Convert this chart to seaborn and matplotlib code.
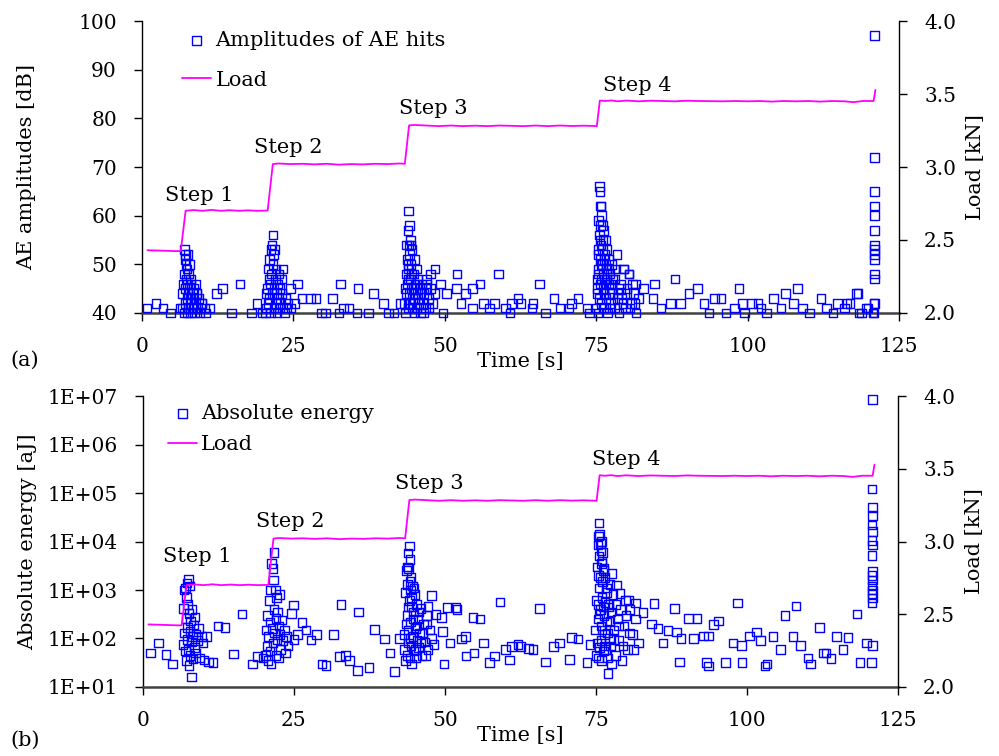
import numpy as np
import pandas as pd
import matplotlib
matplotlib.use("Agg")
import matplotlib.pyplot as plt
import seaborn as sns
from matplotlib.ticker import FixedLocator, FuncFormatter, NullLocator

# ---------------- data ----------------
# Load curve (same in both panels)
load_t = [0.9, 2.5, 4.0, 5.5, 6.4, 7.2, 8.5, 10.0, 11.5, 13.0, 14.5, 16.0, 17.5, 19.0, 20.75,
          21.6, 22.5, 24.5, 26.5, 28.5, 30.5, 32.5, 34.5, 36.5, 38.5, 40.5, 42.5, 43.4,
          44.1, 45.0, 47.0, 49.0, 51.0, 53.0, 55.0, 57.0, 59.0, 61.0, 63.0, 65.0, 67.0, 69.0,
          71.0, 73.0, 75.1, 75.6, 76.5, 77.5, 78.5, 80.0, 82.0, 84.0, 86.0, 88.0, 90.0, 92.0,
          94.0, 96.0, 98.0, 100.0, 102.0, 104.0, 106.0, 108.0, 110.0, 112.0, 114.0, 116.0,
          117.5, 119.0, 120.8, 121.1]
load_kN = [2.430, 2.428, 2.426, 2.424, 2.424, 2.700, 2.705, 2.700, 2.706, 2.700, 2.704, 2.700,
           2.703, 2.700, 2.702, 3.020, 3.024, 3.020, 3.022, 3.018, 3.022, 3.016, 3.020, 3.018,
           3.022, 3.020, 3.024, 3.022, 3.285, 3.288, 3.284, 3.280, 3.284, 3.280, 3.283, 3.280,
           3.284, 3.282, 3.280, 3.284, 3.280, 3.284, 3.281, 3.283, 3.280, 3.455, 3.452, 3.456,
           3.450, 3.455, 3.450, 3.454, 3.452, 3.450, 3.454, 3.452, 3.451, 3.450, 3.452, 3.450,
           3.452, 3.448, 3.452, 3.450, 3.452, 3.448, 3.452, 3.450, 3.444, 3.452, 3.452, 3.528]

# Panel (a): amplitudes of AE hits [dB]
amp_t = [
    0.8, 2.3, 3.5, 4.7, 6.3, 9.9, 9.0, 10.3, 10.5, 11.1, 12.3, 13.3, 14.8, 16.2, 18.1, 19.0, 19.8,
    6.6, 6.7, 6.8, 6.9, 7.0, 7.0, 7.1, 7.1, 7.2, 7.2, 7.3, 7.3, 7.4, 7.4, 7.5, 7.5, 7.6, 7.6, 7.7,
    7.7, 7.8, 7.8, 7.9, 8.0, 8.0, 8.1, 8.2, 8.3, 8.4, 8.5, 8.6, 8.7, 8.8, 8.9, 9.0, 9.2, 9.4, 9.6, 9.8,
    20.4, 20.5, 20.6, 20.7, 20.8, 20.9, 21.0, 21.0, 21.1, 21.2, 21.2, 21.3, 21.4, 21.5, 21.5, 21.6,
    21.6, 21.7, 21.8, 21.8, 21.9, 22.0, 22.0, 22.1, 22.2, 22.3, 22.4, 22.5, 22.6, 22.7, 22.8, 22.9,
    23.0, 23.1, 23.3, 23.5, 23.7, 23.9, 24.1,
    24.5, 25.7, 25.2, 24.6, 26.4, 27.8, 28.7, 29.6, 30.3, 31.5, 32.5, 32.8, 33.3, 34.2, 35.5, 35.7,
    37.4, 38.2, 39.9, 40.7, 41.6, 42.6,
    43.3, 43.4, 43.5, 43.6, 43.7, 43.8, 43.8, 43.9, 43.9, 44.0, 44.0, 44.1, 44.1, 44.2, 44.2, 44.3,
    44.3, 44.4, 44.4, 44.5, 44.6, 44.7, 44.8, 44.9, 45.0, 45.1, 45.2, 45.3, 45.4, 45.5, 45.6, 45.8,
    46.0, 46.2, 46.4, 46.6, 46.8, 47.0, 47.3, 47.6, 48.0, 48.4,
    43.6, 43.9, 44.0, 44.2, 44.3, 44.5, 44.6, 44.8, 45.0, 45.3, 45.7, 46.1, 46.5, 46.9, 47.4,
    47.0, 48.4, 47.6, 49.3, 49.7, 50.3, 52.0, 51.9, 52.7, 53.4, 54.6, 54.6, 55.8, 56.4, 57.4, 58.2,
    58.9, 60.0, 60.8, 61.0, 62.1, 62.6, 64.4, 64.6, 65.6, 66.6, 68.0, 69.0, 70.5, 70.9, 72.0, 73.5, 73.9,
    75.0, 75.1, 75.2, 75.3, 75.3, 75.4, 75.4, 75.5, 75.5, 75.6, 75.6, 75.7, 75.7, 75.8, 75.8, 75.9,
    75.9, 76.0, 76.0, 76.1, 76.2, 76.2, 76.3, 76.4, 76.5, 76.6, 76.7, 76.8, 76.9, 77.0, 77.1, 77.2,
    77.3, 77.4, 77.5, 77.6, 77.8, 78.0, 78.2, 78.4, 78.6, 78.8, 79.0, 79.2, 79.5, 79.8, 80.1, 80.4,
    80.8, 81.2, 81.6, 82.0,
    75.2, 75.3, 75.4, 75.5, 75.6, 75.7, 75.8, 75.9, 76.0, 76.1, 76.2, 76.3, 76.4, 76.5, 76.6, 76.8,
    77.0, 77.2, 77.4, 77.7, 78.1, 78.5, 79.0, 79.4, 80.0, 80.6, 81.0, 81.4,
    79.5, 80.4, 81.5, 82.8, 84.6, 84.4, 88.0, 85.7, 87.3, 88.9, 90.3, 91.7, 92.8, 93.6, 94.5, 95.6,
    96.4, 97.8, 98.6, 99.2, 99.5, 100.6, 101.7, 102.2, 103.1, 104.3, 105.5, 106.3, 107.6, 108.2,
    109.1, 110.2, 112.1, 113.0, 114.1, 114.8, 116.0, 116.9, 118.2, 118.8, 119.9, 120.7, 120.9,
    116.4, 118.0, 118.4, 119.6,
    121.0, 121.0, 121.0, 121.0, 121.0, 121.0, 121.0, 121.0, 121.0, 121.0, 121.0, 121.0, 121.0, 120.9]
amp_dB = [
    41, 42, 41, 40, 41, 42, 44, 41, 40, 41, 44, 45, 40, 46, 40, 42, 40,
    41, 44, 46, 40, 53, 48, 51, 45, 52, 42, 50, 47, 49, 43, 46, 40, 52, 44, 48,
    41, 45, 50, 43, 47, 40, 46, 42, 44, 41, 45, 43, 40, 46, 42, 44, 41, 43, 40, 42,
    40, 44, 41, 45, 42, 49, 43, 47, 51, 40, 46, 53, 48, 54, 44, 56,
    50, 52, 45, 41, 53, 47, 42, 49, 44, 40, 46, 43, 48, 41, 45, 42,
    47, 44, 49, 40, 43, 41, 42,
    45, 46, 42, 41, 43, 43, 43, 40, 40, 43, 40, 46, 41, 41, 40, 45,
    40, 44, 42, 40, 40, 42,
    42, 45, 40, 48, 54, 46, 51, 57, 41, 61, 49, 54, 44, 58, 52, 47,
    42, 54, 50, 45, 53, 43, 48, 40, 51, 46, 44, 49, 41, 47, 43, 45,
    40, 46, 42, 44, 41, 47, 43, 45, 42, 44,
    44, 50, 47, 42, 55, 48, 41, 45, 43, 46, 42, 44, 40, 45, 41,
    46, 49, 48, 46, 40, 44, 48, 45, 42, 44, 41, 45, 46, 42, 41, 42,
    48, 41, 40, 42, 43, 42, 41, 42, 46, 40, 43, 41, 41, 42, 43, 41, 40,
    41, 44, 47, 52, 40, 59, 48, 66, 43, 65, 55, 62, 46, 62, 50, 60,
    42, 58, 53, 45, 57, 41, 51, 47, 55, 43, 49, 53, 40, 46, 51, 44,
    48, 42, 50, 45, 47, 41, 49, 52, 44, 40, 46, 43, 49, 41, 45, 48,
    42, 44, 40, 43,
    45, 49, 53, 56, 51, 58, 54, 47, 50, 55, 48, 44, 52, 46, 50, 47,
    49, 41, 46, 44, 47, 43, 45, 42, 44, 41, 46, 42,
    49, 48, 46, 45, 46, 43, 47, 41, 42, 42, 44, 45, 42, 40, 43, 43,
    40, 41, 45, 42, 40, 42, 42, 41, 40, 43, 41, 44, 42, 45,
    41, 40, 43, 41, 40, 42, 41, 42, 44, 40, 41, 40, 42,
    42, 44, 40, 41,
    97, 72, 65, 62, 60, 57, 54, 53, 52, 51, 48, 47, 42, 40]

# Panel (b): absolute energy [aJ]
en_t = [
    1.2, 2.6, 3.8, 4.9, 9.9, 10.5, 10.1, 10.8, 11.6, 12.4, 13.6, 15.0, 16.4, 18.1, 19.0, 19.9,
    6.6, 6.7, 6.8, 6.9, 7.0, 7.0, 7.1, 7.2, 7.2, 7.3, 7.3, 7.4, 7.4, 7.5, 7.5, 7.6, 7.6, 7.7, 7.8,
    7.8, 7.9, 8.0, 8.0, 8.1, 8.2, 8.3, 8.4, 8.5, 8.6, 8.7, 8.8, 9.0, 9.2, 9.4, 9.7,
    20.3, 20.4, 20.5, 20.6, 20.7, 20.8, 20.9, 21.0, 21.0, 21.1, 21.2, 21.3, 21.4, 21.5, 21.5, 21.6,
    21.7, 21.7, 21.8, 21.9, 22.0, 22.0, 22.1, 22.2, 22.3, 22.4, 22.5, 22.6, 22.7, 22.8, 23.0, 23.2,
    23.4, 23.6, 23.8, 24.0,
    24.9, 24.6, 26.3, 27.0, 25.6, 25.0, 27.8, 28.7, 29.6, 30.3, 31.5, 32.5, 32.8, 33.5, 34.2, 35.5,
    35.7, 37.4, 38.3, 40.0, 40.9, 41.6, 42.5,
    43.2, 43.3, 43.4, 43.5, 43.6, 43.7, 43.8, 43.8, 43.9, 43.9, 44.0, 44.0, 44.1, 44.1, 44.2, 44.2,
    44.3, 44.3, 44.4, 44.4, 44.5, 44.5, 44.6, 44.7, 44.8, 44.9, 45.0, 45.1, 45.2, 45.3, 45.4, 45.5,
    45.6, 45.8, 46.0, 46.2, 46.4, 46.6, 46.9, 47.2, 47.5, 47.8, 48.2,
    43.6, 43.8, 44.0, 44.2, 44.3, 44.5, 44.7, 44.9, 45.1, 45.4, 45.7, 46.0, 46.3, 46.8, 47.0,
    47.8, 47.2, 48.5, 49.4, 49.6, 50.3, 51.8, 52.0, 50.8, 49.8, 52.7, 53.4, 53.5, 54.6, 55.8, 54.8,
    56.4, 57.4, 58.2, 59.1,
    60.0, 60.7, 61.0, 62.1, 62.6, 63.8, 64.6, 65.6, 66.6, 68.0, 69.0, 70.6, 70.9, 72.0, 73.5, 74.0,
    74.9, 75.0, 75.1, 75.2, 75.2, 75.3, 75.3, 75.4, 75.4, 75.5, 75.5, 75.6, 75.6, 75.7, 75.7, 75.8,
    75.8, 75.9, 75.9, 76.0, 76.0, 76.1, 76.2, 76.2, 76.3, 76.4, 76.5, 76.6, 76.7, 76.8, 76.9, 77.0,
    77.1, 77.2, 77.3, 77.4, 77.5, 77.6, 77.8, 78.0, 78.2, 78.4, 78.6, 78.8, 79.0, 79.3, 79.6, 79.9,
    80.2, 80.6, 81.0, 81.5, 82.0,
    75.3, 75.4, 75.5, 75.6, 75.7, 75.8, 75.9, 76.0, 76.1, 76.2, 76.3, 76.4, 76.5, 76.7, 76.9, 77.1,
    77.3, 77.6, 77.9, 78.3, 78.7, 79.1, 79.5, 80.0, 80.5, 81.2,
    80.4, 81.5, 82.8, 84.6, 84.2, 85.3, 86.1, 86.9, 88.0, 88.3, 89.1, 88.8, 90.3, 91.7, 91.1, 92.8,
    93.6, 93.3, 93.6, 94.5, 95.3, 96.4, 97.7, 98.4, 99.2, 99.1, 100.4, 101.6, 102.2, 103.0, 103.3,
    104.3, 105.5, 106.3, 107.6, 108.1, 108.9, 110.1, 110.5, 112.0, 112.7, 113.1, 113.9, 114.8,
    115.9, 116.7, 118.2, 118.7, 119.8, 120.8, 120.6,
    120.8, 120.7, 120.8, 120.8, 120.7, 120.8, 120.7, 120.8, 120.7, 120.8, 120.7, 120.8, 120.7,
    120.8, 120.7, 120.8, 120.7]
en_aJ = [
    50, 80, 47, 30, 80, 110, 36, 33, 32, 180, 170, 48, 320, 30, 42, 40,
    75, 420, 1000, 130, 1100, 55, 260, 700, 35, 1400, 95, 500, 170, 1700, 60, 330, 28, 1200, 140,
    45, 230, 16, 85, 400, 110, 38, 190, 65, 280, 50, 120, 90, 160, 40, 110,
    45, 150, 70, 300, 35, 110, 600, 55, 220, 1000, 30, 3500, 160, 2800, 80, 1600,
    6000, 400, 130, 1000, 45, 260, 700, 95, 350, 40, 180, 800, 120, 60, 240, 90,
    150, 50, 110, 70,
    490, 330, 215, 150, 120, 95, 93, 120, 30, 28, 120, 42, 500, 45, 35, 22,
    350, 25, 155, 98, 50, 21, 100,
    120, 60, 900, 35, 2500, 300, 1300, 45, 5800, 150, 2800, 80, 8100, 600, 4200, 40,
    1000, 220, 1800, 70, 450, 30, 1200, 110, 350, 55, 800, 160, 40, 500, 90, 250,
    65, 130, 420, 45, 200, 85, 300, 60, 150, 100, 75,
    200, 3000, 450, 1500, 100, 700, 250, 1100, 60, 180, 350, 80, 130, 45, 200,
    760, 460, 310, 270, 140, 440, 440, 400, 80, 30, 98, 110, 44, 270, 250, 50,
    80, 32, 44, 560,
    60, 36, 68, 76, 69, 62, 60, 420, 33, 68, 80, 37, 105, 98, 32, 76,
    150, 45, 600, 3000, 80, 8500, 250, 13000, 40, 24000, 1100, 14000, 65, 9000, 400, 6500,
    180, 10000, 35, 4000, 700, 1500, 55, 2500, 300, 120, 1800, 60, 900, 220, 40, 19,
    500, 100, 1300, 70, 350, 30, 800, 150, 45, 1260, 250, 90, 850, 35, 180, 600,
    60, 400, 120, 250, 80,
    500, 2000, 5000, 320, 1800, 90, 3500, 150, 6000, 450, 2800, 70, 550, 1100, 130, 450,
    230, 2200, 95, 500, 180, 400, 70, 300, 130, 60,
    620, 540, 340, 525, 200, 160, 80, 148, 420, 135, 100, 33, 260, 260, 100, 112,
    112, 32, 27, 195, 230, 32, 80, 540, 32, 72, 112, 135, 91, 27, 30,
    110, 60, 300, 110, 470, 71, 40, 30, 170, 50, 50, 39, 110,
    60, 105, 320, 32, 80, 71, 32,
    8.5e6, 1.2e5, 5.0e4, 3.4e4, 2.2e4, 1.6e4, 1.05e4, 8.5e3, 5.2e3, 2.4e3, 2.0e3, 1.6e3, 1.2e3,
    1.0e3, 850, 680, 540]

step_labels = ["Step 1", "Step 2", "Step 3", "Step 4"]

# ---------------- style ----------------
sns.set_theme(style="ticks")
plt.rcParams['font.family'] = ['DejaVu Serif']
plt.rcParams['axes.unicode_minus'] = False
plt.rcParams['text.color'] = 'black'
plt.rcParams['axes.labelcolor'] = 'black'
plt.rcParams['xtick.color'] = 'black'
plt.rcParams['ytick.color'] = 'black'
plt.rcParams['xtick.labelcolor'] = 'black'
plt.rcParams['ytick.labelcolor'] = 'black'

BLUE = "#0000FF"
MAGENTA = "#FF00FF"
TICK_FS = 14.5
LAB_FS = 15

fig = plt.figure(figsize=(9.99, 7.56), dpi=100)
ax_a = fig.add_axes([0.14214, 0.58598, 0.75776, 0.38624])
ax_b = fig.add_axes([0.14314, 0.09127, 0.75576, 0.38492])

load_df = pd.DataFrame({"t": load_t, "load": load_kN})
amp_df = pd.DataFrame({"t": amp_t, "v": amp_dB})
en_df = pd.DataFrame({"t": en_t, "v": en_aJ})


def draw_panel(ax, df, ylabel, legend_label, step_pos, leg_anchor, leg_spacing, log=False):
    sns.scatterplot(data=df, x="t", y="v", ax=ax, marker="s", s=38,
                    facecolor="none", edgecolor=BLUE, linewidth=1.0, legend=False,
                    zorder=3, clip_on=False)
    if log:
        ax.set_yscale("log")
    ax2 = ax.twinx()
    sns.lineplot(data=load_df, x="t", y="load", ax=ax2, color=MAGENTA,
                 linewidth=1.3, estimator=None, legend=False)

    ax.set_xlim(0, 125)
    ax2.set_ylim(2.0, 4.0)
    ax.xaxis.set_major_locator(FixedLocator([0, 25, 50, 75, 100, 125]))
    ax2.yaxis.set_major_locator(FixedLocator([2.0, 2.5, 3.0, 3.5, 4.0]))
    ax2.yaxis.set_major_formatter(FuncFormatter(lambda v, p: f"{v:.1f}"))

    for a in (ax, ax2):
        a.grid(False)
        a.spines["top"].set_visible(False)
    ax.spines["right"].set_visible(False)
    ax2.spines["left"].set_visible(False)
    ax2.spines["bottom"].set_visible(False)
    ax.spines["left"].set_color("black")
    ax.spines["left"].set_linewidth(1.0)
    ax2.spines["right"].set_color("black")
    ax2.spines["right"].set_linewidth(1.0)
    ax.spines["bottom"].set_color("#404040")
    ax.spines["bottom"].set_linewidth(1.8)

    ax.tick_params(axis="x", direction="out", length=6, width=1.0, color="black",
                   labelcolor="black", labelsize=TICK_FS, pad=11, bottom=True)
    ax.tick_params(axis="y", direction="out", length=6, width=1.0, color="black",
                   labelcolor="black", labelsize=TICK_FS, pad=12, left=True)
    ax.tick_params(axis="y", which="minor", left=False, length=0)
    ax2.tick_params(axis="y", direction="out", length=6, width=1.0, color="black",
                    labelcolor="black", labelsize=TICK_FS, pad=12, right=True)

    ax.set_xlabel("Time [s]", fontsize=LAB_FS, color="black")
    ax.set_ylabel(ylabel, fontsize=LAB_FS, color="black")
    ax2.set_ylabel("Load [kN]", fontsize=LAB_FS, color="black")

    for lab, (tx, ty) in zip(step_labels, step_pos):
        ax2.text(tx, ty, lab, fontsize=LAB_FS, ha="left", va="baseline", color="black")

    handles = [ax.collections[0], ax2.lines[0]]
    ax2.legend(handles, [legend_label, "Load"], loc="upper left",
               bbox_to_anchor=leg_anchor, frameon=False, fontsize=LAB_FS,
               borderpad=0, borderaxespad=0, handlelength=1.4, handletextpad=0.2,
               labelspacing=leg_spacing, scatterpoints=1, labelcolor="black")
    return ax2


# panel (a)
ax_a.set_ylim(40, 100)
ax_a.yaxis.set_major_locator(FixedLocator([40, 50, 60, 70, 80, 90, 100]))
a2 = draw_panel(ax_a, amp_df, "AE amplitudes [dB]", "Amplitudes of AE hits",
                [(3.8, 2.767), (18.5, 3.094), (42.5, 3.36), (76.1, 3.523)],
                (0.053, 0.966), 1.0)
ax_a.set_ylim(40, 100)

# panel (b)
a2b = draw_panel(ax_b, en_df, "Absolute energy [aJ]", "Absolute energy",
                 [(3.35, 2.861), (18.7, 3.098), (41.8, 3.359), (74.3, 3.526)],
                 (0.033, 0.9725), 0.58, log=True)
ax_b.set_ylim(10, 1e7)
ax_b.yaxis.set_major_locator(FixedLocator([1e1, 1e2, 1e3, 1e4, 1e5, 1e6, 1e7]))
ax_b.yaxis.set_minor_locator(NullLocator())
ax_b.yaxis.set_major_formatter(FuncFormatter(lambda v, p: f"1E+{int(round(np.log10(v))):02d}"))

for ax in (ax_a, ax_b):
    ax.xaxis.set_label_coords(0.5, -0.135)
    ax.yaxis.set_label_coords(-0.14, 0.5)
for ax in (a2, a2b):
    ax.yaxis.set_label_coords(1.089, 0.5)

fig.text(25 / 999, 1 - 360 / 756, "(a)", fontsize=LAB_FS, ha="center", va="center", color="black")
fig.text(25 / 999, 1 - 740 / 756, "(b)", fontsize=LAB_FS, ha="center", va="center", color="black")

fig.savefig("out.png", dpi=100)
